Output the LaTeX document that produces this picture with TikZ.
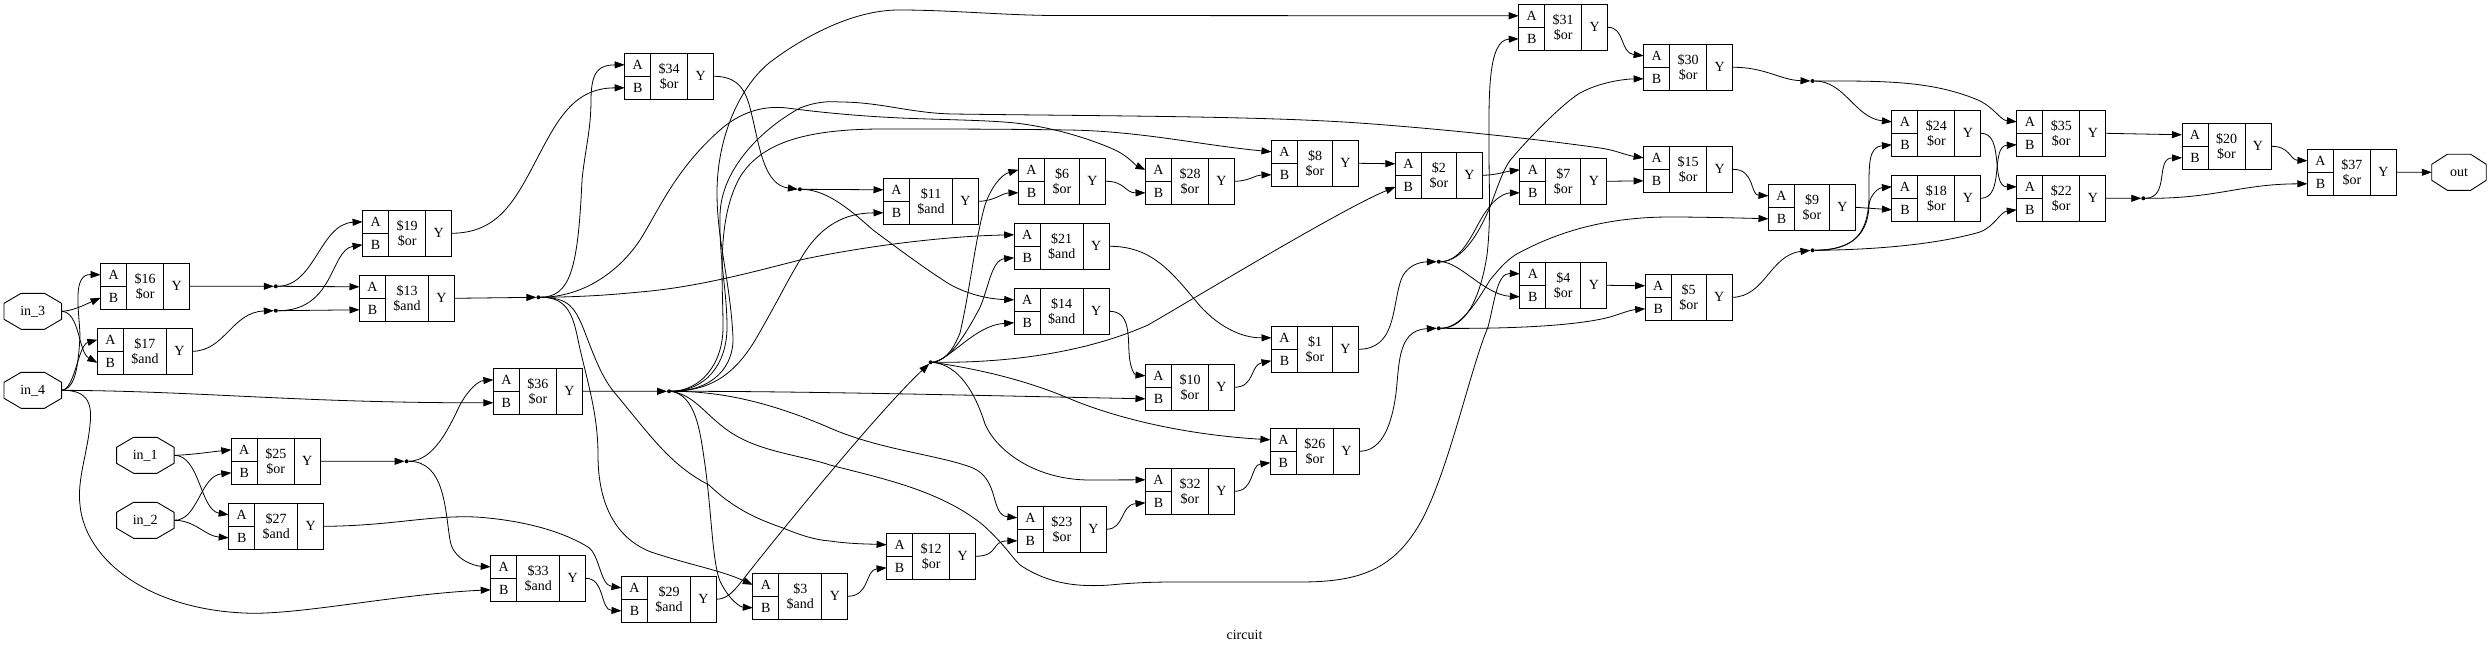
\documentclass[tikz,border=0pt]{standalone}
\usepackage{fontspec}
\setmainfont{Liberation Serif}
\usetikzlibrary{arrows.meta}
\tikzset{
  x=1bp,y=-1bp,
  txt/.style={font=\fontsize{14bp}{15.4bp}\selectfont,text=black},
  cellport/.style={txt,draw=black,line width=.9bp,inner sep=0pt,outer sep=0pt,minimum width=26bp,minimum height=23bp},
  celllab/.style={txt,draw=black,line width=.9bp,inner sep=0pt,outer sep=0pt,minimum height=46bp,align=center},
  jdot/.style={circle,fill=black,inner sep=0pt,outer sep=0pt,minimum size=4bp},
  wire/.style={draw=black,line width=.8bp,-{Triangle[length=10bp,width=7bp]}},
  wiretxt/.style={txt,inner sep=0pt,outer sep=0pt,minimum height=36bp,minimum width=#1},
}
\newcommand\gate[6]{%
  \node[cellport,anchor=north west] (#1A) at (#2,#3) {A};
  \node[cellport,anchor=north west] (#1B) at (#1A.south west) {B};
  \node[celllab,anchor=north west,minimum width=#4bp] (#1L) at (#1A.north east) {\$#5\\\$#6};
  \node[cellport,minimum height=46bp,anchor=north west] (#1Y) at (#1L.north east) {Y};
}
\newcommand\octo[5]{%
  \node[wiretxt=#5bp] (#1) at (#2,#3) {#4};
  \draw[line width=.9bp,black]
    ([shift={(-11.7bp,18bp)}]#1.center) -- ([shift={(11.7bp,18bp)}]#1.center)
    -- ([shift={(#5bp/2,8bp)}]#1.center) -- ([shift={(#5bp/2,-8bp)}]#1.center)
    -- ([shift={(11.7bp,-18bp)}]#1.center) -- ([shift={(-11.7bp,-18bp)}]#1.center)
    -- ([shift={(-#5bp/2,-8bp)}]#1.center) -- ([shift={(-#5bp/2,8bp)}]#1.center) -- cycle;
}
\begin{document}
\begin{tikzpicture}
\useasboundingbox (0,0) rectangle (2489,650);
\octo{inc}{32.8}{311.3}{in\_3}{57.5}
\octo{ind}{32.8}{390.3}{in\_4}{57.5}
\octo{ina}{145.3}{455.3}{in\_1}{57.5}
\octo{inb}{145.3}{520.3}{in\_2}{57.5}
\octo{outp}{2459}{172.3}{out}{54.5}
\gate{cP}{100.6}{263.3}{37}{16}{or}
\gate{cQ}{97.4}{328.3}{43}{17}{and}
\gate{cS}{362.6}{210.3}{37}{19}{or}
\gate{cM}{359.5}{275.3}{43}{13}{and}
\gate{cAH}{624.7}{53.3}{37}{34}{or}
\gate{cAJ}{493.4}{368.3}{37}{36}{or}
\gate{cY}{231.3}{438.3}{37}{25}{or}
\gate{cAA}{228.7}{503.3}{43}{27}{and}
\gate{cAG}{490.7}{555.3}{43}{33}{and}
\gate{cAC}{621.5}{576.3}{43}{29}{and}
\gate{cC}{752.8}{573.3}{43}{3}{and}
\gate{cAE}{1518.7}{4.3}{37}{31}{or}
\gate{cAD}{1643.6}{44.3}{37}{30}{or}
\gate{cK}{883.5}{178.3}{43}{11}{and}
\gate{cF}{1018.5}{158.3}{35}{6}{or}
\gate{cAB}{1145.5}{158.3}{37}{28}{or}
\gate{cH}{1271.5}{140.3}{35}{8}{or}
\gate{cB}{1395.4}{152.3}{35}{2}{or}
\gate{cG}{1519.8}{158.3}{35}{7}{or}
\gate{cO}{1643.6}{146.3}{37}{15}{or}
\gate{cD}{1519.8}{262.3}{35}{4}{or}
\gate{cE}{1645.2}{274.3}{35}{5}{or}
\gate{cU}{1014.2}{223.3}{43}{21}{and}
\gate{cN}{1014.2}{288.3}{43}{14}{and}
\gate{cZA}{1271.5}{326.3}{35}{1}{or}
\gate{cJ}{1145.5}{364.3}{37}{10}{or}
\gate{cZ}{1270.4}{428.3}{37}{26}{or}
\gate{cAF}{1145.5}{468.3}{37}{32}{or}
\gate{cW}{1017.4}{506.3}{37}{23}{or}
\gate{cL}{886.6}{533.3}{37}{12}{or}
\gate{cX}{1891.9}{110.3}{37}{24}{or}
\gate{cAI}{2016.8}{110.3}{37}{35}{or}
\gate{cR}{1891.9}{175.3}{37}{18}{or}
\gate{cV}{2016.8}{175.3}{37}{22}{or}
\gate{cI}{1768.5}{184.3}{35}{9}{or}
\gate{cT}{2182}{123.3}{37}{20}{or}
\gate{cAK}{2307.4}{149.3}{37}{37}{or}
\node[txt,inner sep=0pt] (title) at (1244.5,635) {circuit};
\node[jdot] (ja) at (275.8,286.3) {};
\node[jdot] (jb) at (275.8,310.7) {};
\node[jdot] (jc) at (538.4,297.3) {};
\node[jdot] (jd) at (799.9,189.3) {};
\node[jdot] (je) at (669.1,391.3) {};
\node[jdot] (jf) at (406.6,461.3) {};
\node[jdot] (jg) at (930.6,362.3) {};
\node[jdot] (jh) at (1438.8,261.7) {};
\node[jdot] (ji) at (1438.8,328.3) {};
\node[jdot] (jj) at (1812.5,81) {};
\node[jdot] (jk) at (1812.5,250.3) {};
\node[jdot] (jl) at (2143.3,198.3) {};
% inputs
\path[wire] (inc.east) .. controls (72,311) and (82,306) .. (cPB.west);
\path[wire] (inc.east) .. controls (80,312) and (78,352) .. (cQB.west);
\path[wire] (ind.east) .. controls (72,389) and (78,378) .. (80,335) .. controls (79,310) and (72,274) .. (cPA.west);
\path[wire] (ind.east) .. controls (75,390) and (78,345) .. (cQA.west);
\path[wire] (ind.east) .. controls (200,391) and (300,403) .. (cAJB.west);
\path[wire] (ind.east) .. controls (85,390) and (93,400) .. (90,425) .. controls (87,455) and (77,480) .. (80,505) .. controls (85,560) and (150,612) .. (254,613.3) .. controls (310,613) and (400,594) .. (cAGB.west);
\path[wire] (ina.east) .. controls (190,455) and (210,452) .. (cYA.west);
\path[wire] (ina.east) .. controls (200,455) and (200,510) .. (cAAA.west);
\path[wire] (inb.east) .. controls (198,521) and (200,476) .. (cYB.west);
\path[wire] (inb.east) .. controls (195,520) and (205,536) .. (cAAB.west);
% left side
\path[wire] (cPY.east) -- (ja.west);
\path[wire] (cQY.east) .. controls (225,351) and (232,312) .. (jb.west);
\path[wire] (ja.east) .. controls (315,286) and (320,224) .. (cSA.west);
\path[wire] (ja.east) -- (cMA.west);
\path[wire] (jb.east) .. controls (335,311) and (330,250) .. (cSB.west);
\path[wire] (jb.east) -- (cMB.west);
\path[wire] (cSY.east) .. controls (495,233) and (512,205) .. (530,172) .. controls (555,125) and (570,88) .. (cAHB.west);
\path[wire] (cMY.east) -- (jc.west);
\path[wire] (jc.east) .. controls (570,297) and (578,270) .. (582,180) .. controls (585,150) and (591,130) .. (591,100) .. controls (591,70) and (600,65) .. (cAHA.west);
\path[wire] (jc.east) .. controls (585,297) and (620,270) .. (640,240) .. controls (660,208) and (675,170) .. (720,130) .. controls (745,108) and (770,106) .. (787,108) .. controls (825,113) and (860,116) .. (900,118) .. controls (950,120) and (985,120) .. (1015,123) .. controls (1060,128) and (1100,143) .. (1115,150) .. controls (1128,156) and (1135,165) .. (cABA.west);
\path[wire] (jc.east) .. controls (580,297) and (610,295) .. (640,292) .. controls (700,287) and (760,270) .. (800,260) .. controls (870,245) and (950,236) .. (cUA.west);
\path[wire] (jc.east) .. controls (565,297) and (572,312) .. (577,335) .. controls (585,375) and (598,410) .. (598,455) .. controls (598,510) and (620,540) .. (651,552) .. controls (690,565) and (720,570) .. (cCA.west);
\path[wire] (jc.east) .. controls (570,297) and (575,310) .. (582,325) .. controls (592,350) and (600,375) .. (614,392) .. controls (650,435) and (670,465) .. (709,485) .. controls (735,510) and (760,520) .. (783,528) .. controls (800,535) and (815,540) .. (830,541) .. controls (850,544) and (870,544) .. (cLA.west);
\path[wire] (cYY.east) -- (jf.west);
\path[wire] (jf.east) .. controls (435,461) and (450,425) .. (460,405) .. controls (468,390) and (478,381) .. (cAJA.west);
\path[wire] (jf.east) .. controls (445,461) and (445,510) .. (450,540) .. controls (453,560) and (475,566) .. (cAGA.west);
\path[wire] (cAAY.east) .. controls (390,526) and (430,515) .. (476,517) .. controls (520,520) and (560,530) .. (588,547) .. controls (600,555) and (600,585) .. (cACA.west);
\path[wire] (cAGY.east) .. controls (605,578) and (600,610) .. (cACB.west);
\path[wire] (cAJY.east) -- (je.west);
\path[wire] (cAHY.east) .. controls (745,76) and (748,100) .. (753,120) .. controls (760,150) and (765,185) .. (jd.west);
\path[wire] (jd.east) -- (cKA.west);
\path[wire] (jd.east) .. controls (825,190) and (845,205) .. (873,230) .. controls (900,250) and (920,265) .. (943,280) .. controls (960,292) and (985,299) .. (cNA.west);
% fan from je
\path[wire] (je.east) .. controls (715,391) and (734,365) .. (733,337) .. controls (730,280) and (717,240) .. (717,193) .. controls (717,130) and (745,80) .. (773,60) .. controls (800,40) and (850,10) .. (899,10) .. controls (950,10) and (1000,15) .. (1052,15.5) -- (cAEA.west);
\path[wire] (je.east) .. controls (705,391) and (727,365) .. (727,327) .. controls (727,290) and (719,260) .. (720,215) .. controls (721,170) and (760,130) .. (800,108) .. controls (815,102) and (828,101) .. (840,102) .. controls (880,102) and (910,113) .. (952,114) .. controls (1100,116) and (1260,116) .. (1359,123) .. controls (1430,128) and (1530,138) .. (1600,148) .. controls (1615,150) and (1625,155) .. (cOA.west);
\path[wire] (je.east) .. controls (700,391) and (723,365) .. (723,327) .. controls (723,280) and (716,220) .. (740,177) .. controls (760,145) and (800,129) .. (883,129) .. controls (950,129) and (1000,129) .. (1068,130) .. controls (1140,131) and (1200,145) .. (cHA.west);
\path[wire] (je.east) .. controls (710,391) and (735,375) .. (757,337) .. controls (780,297) and (785,285) .. (800,260) .. controls (820,225) and (845,213) .. (cKB.west);
\path[wire] (je.east) .. controls (800,391) and (1000,396) .. (cJB.west);
\path[wire] (je.east) .. controls (720,391) and (770,402) .. (830,428) .. controls (880,450) and (940,455) .. (973,468) .. controls (1000,480) and (990,515) .. (cWA.west);
\path[wire] (je.east) .. controls (695,395) and (705,415) .. (730,432) .. controls (760,452) and (800,455) .. (830,465) .. controls (880,478) and (940,490) .. (983,525) .. controls (1005,545) and (1010,555) .. (1020,565) .. controls (1050,585) and (1080,587) .. (1110,585) .. controls (1130,583) and (1150,582) .. (1174,582) -- (1300,582) .. controls (1360,582) and (1395,570) .. (1423,518) .. controls (1450,465) and (1470,370) .. (1488,327) .. controls (1495,300) and (1497,273) .. (cDA.west);
\path[wire] (je.east) .. controls (695,395) and (700,430) .. (704,458) .. controls (712,510) and (712,570) .. (722,585) .. controls (730,600) and (740,607) .. (cCB.west);
% middle
\path[wire] (cACY.east) .. controls (728,599) and (735,590) .. (745,577) .. controls (790,520) and (880,410) .. (jg.south west);
\path[wire] (jg.east) .. controls (948,360) and (955,345) .. (960,333) .. controls (970,290) and (975,240) .. (985,205) .. controls (990,190) and (1000,175) .. (cFA.west);
\path[wire] (jg.east) .. controls (950,360) and (965,335) .. (977,313) .. controls (988,295) and (990,260) .. (cUB.west);
\path[wire] (jg.east) .. controls (950,360) and (975,325) .. (cNB.west);
\path[wire] (jg.east) .. controls (1000,363) and (1080,355) .. (1148,325) .. controls (1200,295) and (1340,210) .. (cBB.west);
\path[wire] (jg.east) .. controls (985,370) and (1030,382) .. (1068,398) .. controls (1120,420) and (1190,435) .. (cZA.west);
\path[wire] (jg.east) .. controls (960,365) and (975,395) .. (983,418) .. controls (990,445) and (1030,480) .. (1090,480) -- (cAFA.west);
\path[wire] (cKY.east) .. controls (995,201) and (1002,193) .. (cFB.west);
\path[wire] (cFY.east) .. controls (1125,181) and (1125,193) .. (cABB.west);
\path[wire] (cABY.east) .. controls (1250,181) and (1255,175) .. (cHB.west);
\path[wire] (cHY.east) -- (cBA.west);
\path[wire] (cBY.east) .. controls (1497,175) and (1503,172) .. (cGA.west);
\path[wire] (cNY.east) .. controls (1130,311) and (1128,335) .. (1129,352) .. controls (1130,370) and (1135,375) .. (cJA.west);
\path[wire] (cUY.east) .. controls (1150,246) and (1170,270) .. (1195,300) .. controls (1215,325) and (1240,338) .. (cZAA.west);
\path[wire] (cJY.east) .. controls (1255,387) and (1250,365) .. (cZAB.west);
\path[wire] (cZAY.east) .. controls (1395,349) and (1392,310) .. (1400,283) .. controls (1405,265) and (1420,262) .. (jh.west);
\path[wire] (cZY.east) .. controls (1380,451) and (1390,430) .. (1395,400) .. controls (1400,370) and (1395,330) .. (ji.west);
\path[wire] (cCY.east) .. controls (870,596) and (865,570) .. (cLB.west);
\path[wire] (cLY.east) .. controls (1000,556) and (990,541) .. (cWB.west);
\path[wire] (cWY.east) .. controls (1125,529) and (1120,505) .. (cAFB.west);
\path[wire] (cAFY.east) .. controls (1255,491) and (1250,465) .. (cZB.west);
% right
\path[wire] (jh.east) .. controls (1465,261) and (1475,225) .. (1487,210) .. controls (1495,198) and (1505,193) .. (cGB.west);
\path[wire] (jh.east) .. controls (1462,261) and (1478,235) .. (1490,207) .. controls (1500,180) and (1505,165) .. (1513,157) .. controls (1520,148) and (1560,105) .. (1580,93) .. controls (1600,82) and (1625,79) .. (cADB.west);
\path[wire] (jh.east) .. controls (1460,262) and (1485,295) .. (cDB.west);
\path[wire] (ji.east) .. controls (1465,328) and (1480,300) .. (1487,255) .. controls (1491,220) and (1489,190) .. (1489,150) .. controls (1489,100) and (1487,40) .. (cAEB.west);
\path[wire] (ji.east) .. controls (1460,328) and (1475,305) .. (1490,280) .. controls (1500,268) and (1505,262) .. (1515,255) .. controls (1560,230) and (1610,217) .. (1670,217) .. controls (1700,217) and (1740,218) .. (cIB.west);
\path[wire] (ji.east) .. controls (1520,329) and (1580,325) .. (1610,317) .. controls (1620,314) and (1630,310) .. (cEB.west);
\path[wire] (cGY.east) -- (cOB.west);
\path[wire] (cDY.east) -- (cEA.west);
\path[wire] (cAEY.east) .. controls (1625,27) and (1620,53) .. (cADA.west);
\path[wire] (cOY.east) .. controls (1755,169) and (1750,195) .. (cIA.west);
\path[wire] (cIY.east) -- (cRB.west);
\path[wire] (cADY.east) .. controls (1765,67) and (1780,80) .. (jj.west);
\path[wire] (cEY.east) .. controls (1765,297) and (1770,255) .. (jk.west);
\path[wire] (jj.east) .. controls (1845,81) and (1855,118) .. (cXA.west);
\path[wire] (jj.east) .. controls (1880,81) and (1930,80) .. (1978,100) .. controls (1995,108) and (2000,120) .. (cAIA.west);
\path[wire] (jk.east) .. controls (1845,250) and (1868,240) .. (1869,205) .. controls (1870,195) and (1878,188) .. (cRA.west);
\path[wire] (jk.east) .. controls (1848,250) and (1869,240) .. (1869,195) .. controls (1869,165) and (1868,147) .. (cXB.west);
\path[wire] (jk.east) .. controls (1870,250) and (1935,245) .. (1980,232) .. controls (1995,226) and (2000,212) .. (cVB.west);
\path[wire] (cXY.east) .. controls (2005,133) and (1990,187) .. (cVA.west);
\path[wire] (cRY.east) .. controls (2005,198) and (1990,146) .. (cAIB.west);
\path[wire] (cAIY.east) -- (cTA.west);
\path[wire] (cVY.east) -- (jl.west);
\path[wire] (jl.east) .. controls (2170,198) and (2155,158) .. (cTB.west);
\path[wire] (jl.east) .. controls (2215,199) and (2240,184) .. (cAKB.west);
\path[wire] (cTY.east) .. controls (2290,146) and (2290,160) .. (cAKA.west);
\path[wire] (cAKY.east) -- (outp.west);
\end{tikzpicture}
\end{document}
